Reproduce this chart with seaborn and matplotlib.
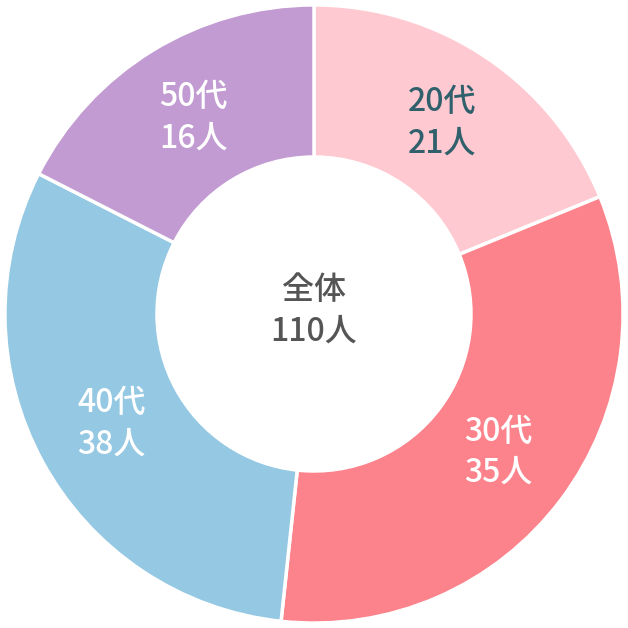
import matplotlib
matplotlib.use('Agg')
import matplotlib.pyplot as plt
import seaborn as sns
import numpy as np

# age groups, counts shown in the labels, and wedge shares (%) as drawn
ages = ['20代', '30代', '40代', '50代']
counts = [21, 35, 38, 16]
shares = [18.8, 32.9, 30.8, 17.5]
colors = ['#FFC9D1', '#FC838C', '#95C8E2', '#C19BD1']
text_colors = ['#2F606B', 'white', 'white', 'white']
total_label = '全体'
total_unit = '人'

sns.set_theme(style='white')
plt.rcParams['font.family'] = ['Noto Sans CJK JP', 'DejaVu Sans']

fig = plt.figure(figsize=(6.28, 6.28), dpi=100)
ax = fig.add_axes([0, 0, 1, 1])

ax.pie(shares, colors=colors, startangle=90, counterclock=False, radius=1,
       wedgeprops=dict(width=0.492, edgecolor='white', linewidth=2.5))

# labels at the middle of each wedge
cum = 0
for age, c, s, tc in zip(ages, counts, shares, text_colors):
    mid = (cum + s / 2) / sum(shares) * 2 * np.pi
    cum += s
    x = 0.745 * np.sin(mid)
    y = 0.745 * np.cos(mid)
    ax.text(x, y, f'{age}\n{c}人', ha='center', va='center', color=tc,
            fontsize=23, linespacing=1.38, fontweight='medium')

ax.text(0, 0.01, f'{total_label}\n{sum(counts)}{total_unit}', ha='center', va='center',
        color='#555555', fontsize=23, linespacing=1.38, fontweight='medium')

ax.set_xlim(-1.016, 1.016)
ax.set_ylim(-1.016, 1.016)
ax.set_aspect('equal')
ax.axis('off')

fig.savefig('out.png', dpi=100, facecolor='white')
